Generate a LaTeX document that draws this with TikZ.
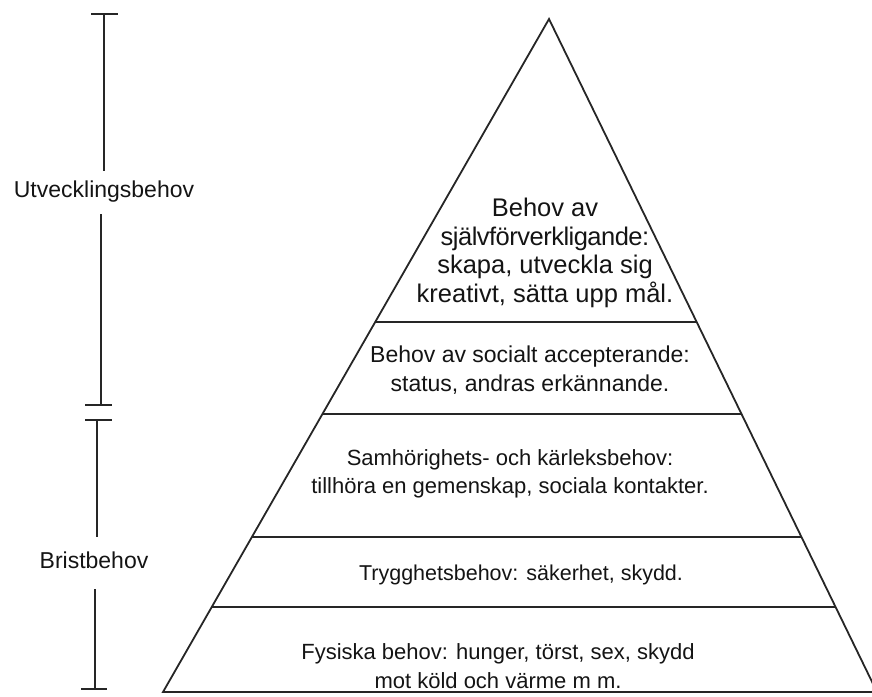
\documentclass[tikz,border=0pt]{standalone}
\usepackage{fontspec}
\setmainfont{Liberation Sans}
\usetikzlibrary{calc}
\begin{document}
\begin{tikzpicture}[x=1pt,y=-1pt,
  edge/.style={line width=1.8pt, draw=black!85},
  bar/.style={line width=2pt, draw=black!85},
  lbl/.style={align=center, inner sep=0pt, text=black!92},
  fs/.style={font=\fontsize{#1}{28.5}\selectfont},
  side/.style={font=\fontsize{23}{28}\selectfont, inner sep=0pt, text=black!92}]
\useasboundingbox (0,0) rectangle (872,696);
% pyramid
\coordinate (apex) at (549,19);
\coordinate (bl) at (163,692);
\coordinate (br) at (877,692);
\draw[edge, line join=miter] (bl) -- (apex) -- (br) -- cycle;
\foreach \t/\n in {0.4502/a,0.5869/b,0.7697/c,0.8737/d}{
  \coordinate (l\n) at ($(apex)!\t!(bl)$);
  \coordinate (r\n) at ($(apex)!\t!(br)$);
  \draw[edge] (l\n) -- (r\n);
}
% texts in the pyramid
\node[lbl, fs=25.5] (n1) at (545,253) {Behov av\\{\addfontfeature{LetterSpace=-2}självförverkligande:}\\skapa, utveckla sig\\kreativt, sätta upp mål.};
\node[lbl, fs=23] (n2) at (530,370) {Behov av socialt accepterande:\\status, andras erkännande.};
\node[lbl, fs=22] (n3) at (510,474) {Samhörighets- och kärleksbehov:\\tillhöra en gemenskap, sociala kontakter.};
\node[lbl, fs=21.5] (n4) at (521,575) {Trygghetsbehov: säkerhet, skydd.};
\node[lbl, fs=22] (n5) at (498,666) {Fysiska behov: hunger, törst, sex, skydd\\mot köld och värme m m.};
% side labels
\node[side] (utv) at (104,192) {Utvecklingsbehov};
\node[side] (brist) at (94,560) {Bristbehov};
% upper bracket
\coordinate (ua) at (91,14);  \coordinate (ub) at (118,14);
\coordinate (uc) at (104,14);
\coordinate (ud) at (101,405);
\coordinate (ue) at (85,405); \coordinate (uf) at (112,405);
\draw[bar] (ua) -- (ub);
\draw[edge, shorten >=10pt] (uc) -- (uc |- utv.north);
\draw[edge, shorten >=11pt] (ud) -- (ud |- utv.south);
\draw[bar] (ue) -- (uf);
% lower bracket
\coordinate (la) at (85,420); \coordinate (lb2) at (112,420);
\coordinate (lc) at (97,420);
\coordinate (ld) at (95,689);
\coordinate (le) at (81,689); \coordinate (lf) at (107,689);
\draw[bar] (la) -- (lb2);
\draw[edge, shorten >=14pt] (lc) -- (lc |- brist.north);
\draw[edge, shorten >=20pt] (ld) -- (ld |- brist.south);
\draw[bar] (le) -- (lf);
\end{tikzpicture}
\end{document}
